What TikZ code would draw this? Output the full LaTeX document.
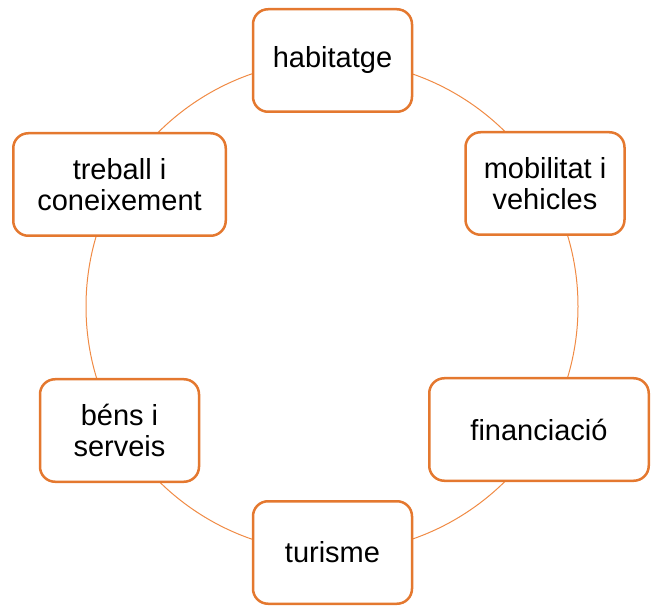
\documentclass[tikz,border=0pt]{standalone}
\usepackage{fontspec}
\setmainfont{Liberation Sans}
\usepackage{xcolor}
\usepackage{tikz}

\definecolor{boxorange}{HTML}{E4782F}
\definecolor{ringorange}{HTML}{F08B45}

\begin{document}
\begin{tikzpicture}[x=1pt,y=1pt,
    topic/.style={draw=boxorange, line width=2.5pt, fill=white, rounded corners=15pt,
      minimum width=159pt, minimum height=102.5pt, align=center, inner sep=0pt,
      font=\fontsize{29}{31}\selectfont},
    ring/.style={draw=ringorange, line width=1pt}]
    \useasboundingbox (0,0) rectangle (651,606);

    % circle behind the topics
    \coordinate (centre) at (332,299.5);
    \draw[ring] (centre) circle (246);

    \node[topic] (habitatge) at (332.5,545.5) {habitatge};
    \node[topic] (mobilitat) at (545,422.5) {mobilitat i\\vehicles};
    \node[topic, minimum width=219.5pt] (financiacio) at (539,176.5) {financiació};
    \node[topic] (turisme) at (332.5,53.5) {turisme};
    \node[topic] (bens) at (119.5,175.5) {béns i\\serveis};
    \node[topic, minimum width=212.5pt] (treball) at (119.5,421.5) {treball i\\coneixement};
\end{tikzpicture}
\end{document}
